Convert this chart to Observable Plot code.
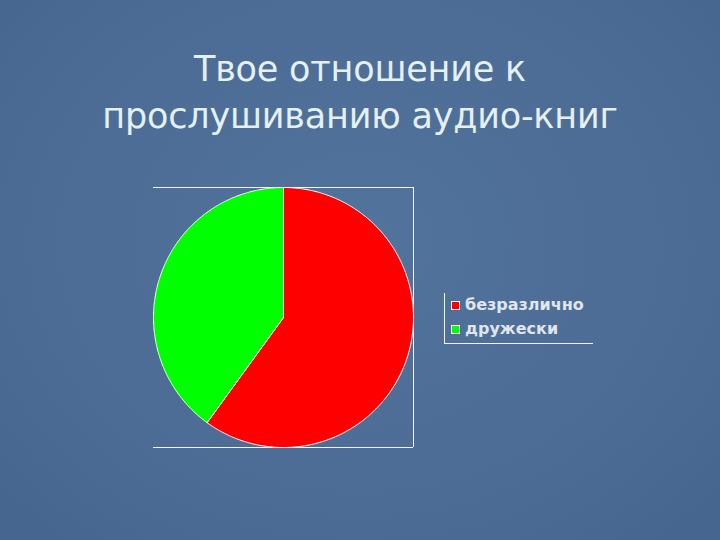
<!DOCTYPE html>
<html>
<head>
<meta charset="utf-8">
<script src="https://cdn.jsdelivr.net/npm/d3@7"></script>
<script src="https://cdn.jsdelivr.net/npm/@observablehq/plot@0.6"></script>
<style>
  html, body { margin: 0; padding: 0; }
  body { width: 720px; height: 540px; overflow: hidden; }
  #stage {
    position: relative; width: 720px; height: 540px;
    background: radial-gradient(ellipse at 50% 45%, #52739c 0%, #4c6c96 60%, #46658e 100%);
  }
  #title {
    position: absolute; left: 0; top: 46px; width: 720px; text-align: center;
    font-family: "DejaVu Sans", sans-serif; font-size: 35px; line-height: 47px;
    color: #e4f0f2; letter-spacing: -0.2px;
  }
  #chart { position: absolute; left: 0; top: 0; }
  #legend {
    position: absolute; left: 444px; top: 293px; width: 148px; height: 50px;
    border-left: 1px solid #f2f4f8; border-bottom: 1px solid #f2f4f8;
    font-family: "DejaVu Sans", sans-serif; font-weight: bold; font-size: 16px; color: #e0e6ee;
  }
  .item { position: absolute; left: 6px; display: flex; align-items: center; white-space: nowrap; line-height: 18px; }
  .sw { width: 7px; height: 7px; border: 1px solid #e8eef4; margin-right: 5px; }
</style>
</head>
<body>
<div id="stage">
  <div id="chart"></div>
  <div id="title"></div>
  <div id="legend"></div>
</div>
<script>
const titleLines = ["Твое отношение к", "прослушиванию аудио-книг"];
const categories = ["безразлично", "дружески"];
const values = [60, 40];
const colors = ["#ff0000", "#00ff00"];

document.getElementById("title").innerHTML = titleLines.join("<br>");

const arcs = d3.pie().sort(null)(values);
const pts = [];
arcs.forEach((a, i) => {
  const cat = categories[i];
  pts.push({cat, x: 0, y: 0});
  const n = Math.max(2, Math.ceil((a.endAngle - a.startAngle) / (Math.PI / 360)));
  for (let k = 0; k <= n; k++) {
    const t = a.startAngle + (a.endAngle - a.startAngle) * k / n;
    pts.push({cat, x: Math.sin(t), y: Math.cos(t)});
  }
  pts.push({cat, x: 0, y: 0});
});

const plot = Plot.plot({
  width: 720, height: 540,
  marginLeft: 153, marginRight: 307, marginTop: 187, marginBottom: 93,
  x: {domain: [-1, 1], axis: null},
  y: {domain: [-1, 1], axis: null},
  color: {domain: categories, range: colors},
  style: {background: "transparent", overflow: "visible"},
  marks: [
    Plot.ruleY([1], {x1: -1, x2: 1, stroke: "#f2f4f8", strokeWidth: 1}),
    Plot.ruleY([-1], {x1: -1, x2: 1, stroke: "#f2f4f8", strokeWidth: 1}),
    Plot.ruleX([1], {y1: -1, y2: 1, stroke: "#f2f4f8", strokeWidth: 1}),
    Plot.line(pts, {x: "x", y: "y", z: "cat", fill: "cat", stroke: "#ffffff", strokeWidth: 1, curve: "linear"})
  ]
});
document.getElementById("chart").appendChild(plot);

const legend = document.getElementById("legend");
categories.forEach((c, i) => {
  const d = document.createElement("div");
  d.className = "item";
  d.style.top = (3 + i * 24) + "px";
  d.innerHTML = `<span class="sw" style="background:${colors[i]}"></span><span>${c}</span>`;
  legend.appendChild(d);
});
</script>
</body>
</html>
